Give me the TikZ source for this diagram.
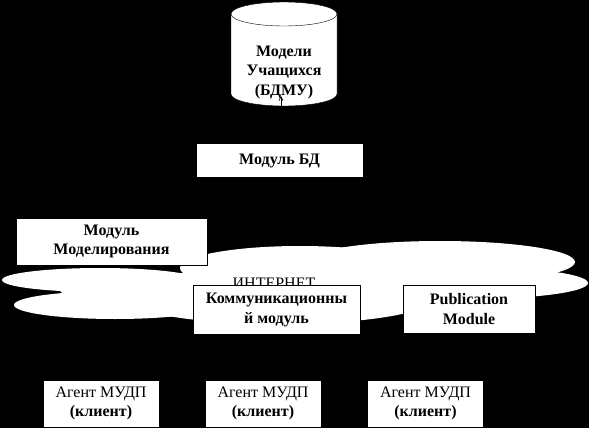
\documentclass[tikz,border=0pt]{standalone}
\usepackage{fontspec}
\setmainfont{Liberation Serif}
\usetikzlibrary{arrows.meta}

\begin{document}
\begin{tikzpicture}[
    x=1pt, y=-1pt,
    every node/.style={font=\fontsize{16}{19.5}\selectfont, align=center},
    box/.style={draw=black, fill=white, line width=0.4pt, inner sep=0pt},
    boldbox/.style={box, font=\fontsize{16}{19.5}\selectfont\bfseries},
    agentbox/.style={box, minimum width=116pt, minimum height=47pt},
    cloudpart/.style={fill=white},
]

\useasboundingbox (0,0) rectangle (589,428);
\fill[black] (0,0) rectangle (589,428);

% database
\draw[fill=white] (231,14) -- (231,94)
    arc[start angle=180, end angle=0, x radius=53, y radius=12]
    -- (337,14)
    arc[start angle=0, end angle=-180, x radius=53, y radius=12] -- cycle;
\draw (231,14) arc[start angle=180, end angle=0, x radius=53, y radius=12];
\node[font=\fontsize{16}{19.5}\selectfont\bfseries] (db) at (284,72) {Модели\\Учащихся\\(БДМУ)};
\coordinate (dbin) at (281,96);

% cloud
\foreach \cx/\cy/\rx/\ry in {100/280/98/12, 115/305/101/14, 280/300/150/24,
    300/268/120/22, 440/262/135/21, 470/283/118/16, 230/285/80/15,
    160/290/100/14}
{
    \fill[cloudpart] (\cx,\cy) ellipse [x radius=\rx, y radius=\ry];
}
\node[anchor=base] (net) at (274,288.5) {ИНТЕРНЕТ};

\node[boldbox, minimum width=167pt, minimum height=34pt] (bd) at (279.5,160.5) {Модуль БД};
\node[boldbox, minimum width=191pt, minimum height=47pt] (model) at (111.5,241.5) {Модуль\\Моделирования};
\node[boldbox, minimum width=167pt, minimum height=49pt] (comm) at (276.5,310) {Коммуникационны\\й модуль};
\node[boldbox, minimum width=132pt, minimum height=48pt] (pub) at (469,309) {Publication\\Module};

\foreach \i/\ax in {1/101, 2/263, 3/425.5}
{
    \node[agentbox] (agent\i) at (\ax,403.5) {Агент МУДП\\\textbf{(клиент)}};
}

\draw[-{Straight Barb[length=4pt, width=4pt]}, black, line width=0.6pt] (bd.north -| dbin) -- (dbin);
\end{tikzpicture}
\end{document}
